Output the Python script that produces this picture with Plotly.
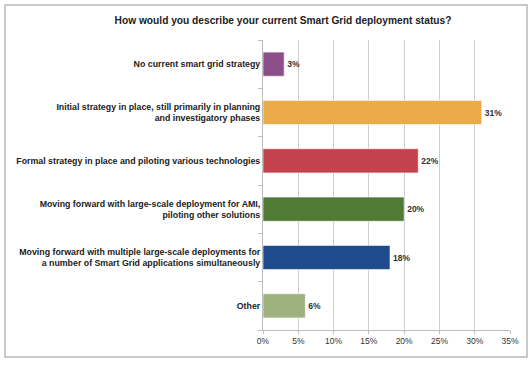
import plotly.graph_objects as go

categories = [
    "No current smart grid strategy",
    "Initial strategy in place, still primarily in planning<br>and investigatory phases",
    "Formal strategy in place and piloting various technologies",
    "Moving forward with large-scale deployment for AMI,<br>piloting other solutions",
    "Moving forward with multiple large-scale deployments for<br>a number of Smart Grid applications simultaneously",
    "Other",
]
values = [3, 31, 22, 20, 18, 6]
colors = ["#8c4f8a", "#ebab48", "#c3424b", "#4f7b35", "#1f4b8e", "#9db27f"]
x_ticks = [0, 5, 10, 15, 20, 25, 30, 35]
x_tick_labels = [f"{v}%" for v in x_ticks]
title = "How would you describe your current Smart Grid deployment status?"

FONT = "Liberation Sans Narrow, Arial Narrow, Liberation Sans, Arial, sans-serif"

fig = go.Figure(go.Bar(
    y=categories,
    x=values,
    orientation="h",
    marker=dict(color=colors, line=dict(color="rgba(255,255,255,0.6)", width=1)),
    width=0.5,
    text=["<b>%d%%</b>" % v for v in values],
    textposition="outside",
    textfont=dict(family=FONT, size=8.5, color="#333"),
    cliponaxis=False,
))

W, H = 532, 365
L, R, T, B = 263, 22, 40, 35
pw, ph = W - L - R, H - T - B

def px(x):
    return (x - L) / pw

def py(y):
    return (H - B - y) / ph

fig.add_shape(type="rect", xref="paper", yref="paper",
              x0=px(5), x1=px(527), y0=py(357), y1=py(5),
              line=dict(color="#c9c9c9", width=2), fillcolor="rgba(0,0,0,0)", layer="below")

fig.update_layout(
    width=W, height=H,
    margin=dict(l=L, r=R, t=T, b=B),
    paper_bgcolor="white", plot_bgcolor="white",
    showlegend=False,
    title=dict(text="<b>" + title + "</b>", x=283 / W, xref="container", xanchor="center",
               y=1 - 20 / H, yref="container", yanchor="middle",
               font=dict(family=FONT, size=10.2, color="#222")),
    font=dict(family=FONT, color="#222"),
)

fig.update_xaxes(range=[0, 35], tickvals=x_ticks, ticktext=x_tick_labels,
                 showgrid=True, gridcolor="#cfcfcf", gridwidth=1,
                 zeroline=False, showline=True, linecolor="#bdbdbd",
                 ticks="outside", ticklen=3, tickcolor="#bdbdbd", automargin=False,
                 tickfont=dict(family=FONT, size=8.5, color="#333"))
fig.update_yaxes(autorange="reversed", showline=True, linecolor="#bdbdbd",
                 ticks="outside", ticklen=4, tickcolor="#bdbdbd", tickson="boundaries",
                 tickfont=dict(family=FONT, size=8.8, color="#222"),
                 showgrid=False, automargin=False)
fig.update_yaxes(ticktext=["<b>" + c.replace("<br>", "</b><br><b>") + "</b>" for c in categories],
                 tickvals=categories)

fig.write_html("out.html", config={"displayModeBar": False},
               post_script="document.body.style.margin='0';document.body.style.overflow='hidden';")
